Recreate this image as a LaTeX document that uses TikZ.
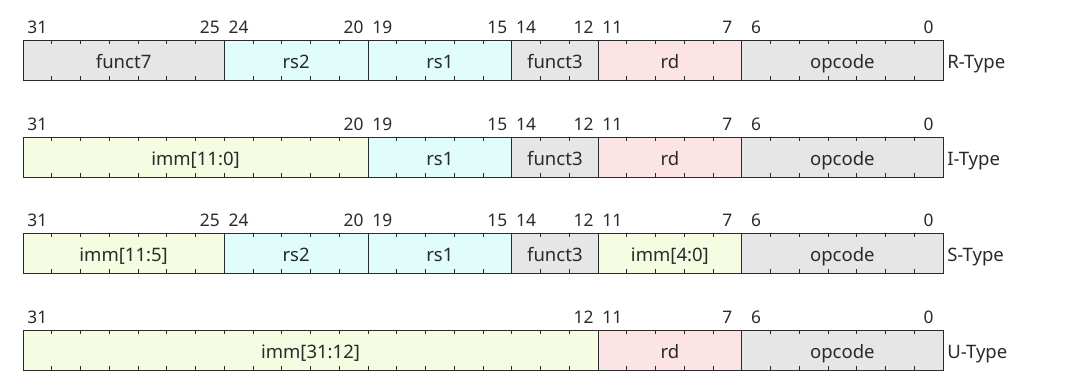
\documentclass[tikz,border=0pt]{standalone}
\usepackage{fontspec}
\setmainfont{Noto Sans}
\usetikzlibrary{positioning, calc}

\definecolor{fldgray}{HTML}{E6E6E6}
\definecolor{fldcyan}{HTML}{E0FDFB}
\definecolor{fldpink}{HTML}{FDE4E4}
\definecolor{fldimm}{HTML}{F4FCE2}
\definecolor{inkgray}{HTML}{2A2A2A}

\tikzset{
    fieldbox/.style={draw=inkgray, line width=0.75pt},
    bittick/.style={draw=inkgray, line width=0.6pt},
    fieldname/.style={inner sep=0pt, anchor=base, text=inkgray,
        font=\fontsize{13.9}{16}\selectfont},
    bitnum/.style={fieldname, font=\fontsize{13}{15}\selectfont},
    typename/.style={fieldname, anchor=base west}
}

\begin{document}
\begin{tikzpicture}[x=0.75pt, y=0.75pt]
    \useasboundingbox (0,0) rectangle (1092,380);
    % --- R-Type ---
    \begin{scope}[shift={(0,300)}]
        \foreach \hi/\lo/\id/\txt/\col in {31/25/funct7/funct7/fldgray,
                24/20/rs2/rs2/fldcyan, 19/15/rs1/rs1/fldcyan,
                14/12/funct3/funct3/fldgray, 11/7/rd/rd/fldpink,
                6/0/opcode/opcode/fldgray} {
            \pgfmathsetmacro{\xa}{23+(31-\hi)*28.75}
            \pgfmathsetmacro{\xb}{23+(32-\lo)*28.75}
            \draw[fieldbox, fill=\col] (\xa,0) rectangle (\xb,40);
            \node[fieldname] (R-\id) at ({(\xa+\xb)/2},11.7) {\txt};
            \node[bitnum] (R-\id-hi) at ({\xa+14.375},46.7) {\hi};
            \node[bitnum] (R-\id-lo) at ({\xb-14.375},46.7) {\lo};
        }
        \foreach \k in {1,...,31} {
            \draw[bittick] ({23+\k*28.75},0) -- ++(0,4);
            \draw[bittick] ({23+\k*28.75},40) -- ++(0,-4);
        }
        \node[typename] (R-type) at (947,11.7) {R-Type};
    \end{scope}
    % --- I-Type ---
    \begin{scope}[shift={(0,203)}]
        \foreach \hi/\lo/\id/\txt/\col in {31/20/imm/{imm[11:0]}/fldimm,
                19/15/rs1/rs1/fldcyan, 14/12/funct3/funct3/fldgray,
                11/7/rd/rd/fldpink, 6/0/opcode/opcode/fldgray} {
            \pgfmathsetmacro{\xa}{23+(31-\hi)*28.75}
            \pgfmathsetmacro{\xb}{23+(32-\lo)*28.75}
            \draw[fieldbox, fill=\col] (\xa,0) rectangle (\xb,40);
            \node[fieldname] (I-\id) at ({(\xa+\xb)/2},11.7) {\txt};
            \node[bitnum] (I-\id-hi) at ({\xa+14.375},46.7) {\hi};
            \node[bitnum] (I-\id-lo) at ({\xb-14.375},46.7) {\lo};
        }
        \foreach \k in {1,...,31} {
            \draw[bittick] ({23+\k*28.75},0) -- ++(0,4);
            \draw[bittick] ({23+\k*28.75},40) -- ++(0,-4);
        }
        \node[typename] (I-type) at (947,11.7) {I-Type};
    \end{scope}
    % --- S-Type ---
    \begin{scope}[shift={(0,107)}]
        \foreach \hi/\lo/\id/\txt/\col in {31/25/immhi/{imm[11:5]}/fldimm,
                24/20/rs2/rs2/fldcyan, 19/15/rs1/rs1/fldcyan,
                14/12/funct3/funct3/fldgray, 11/7/immlo/{imm[4:0]}/fldimm,
                6/0/opcode/opcode/fldgray} {
            \pgfmathsetmacro{\xa}{23+(31-\hi)*28.75}
            \pgfmathsetmacro{\xb}{23+(32-\lo)*28.75}
            \draw[fieldbox, fill=\col] (\xa,0) rectangle (\xb,40);
            \node[fieldname] (S-\id) at ({(\xa+\xb)/2},11.7) {\txt};
            \node[bitnum] (S-\id-hi) at ({\xa+14.375},46.7) {\hi};
            \node[bitnum] (S-\id-lo) at ({\xb-14.375},46.7) {\lo};
        }
        \foreach \k in {1,...,31} {
            \draw[bittick] ({23+\k*28.75},0) -- ++(0,4);
            \draw[bittick] ({23+\k*28.75},40) -- ++(0,-4);
        }
        \node[typename] (S-type) at (947,11.7) {S-Type};
    \end{scope}
    % --- U-Type ---
    \begin{scope}[shift={(0,10)}]
        \foreach \hi/\lo/\id/\txt/\col in {31/12/imm/{imm[31:12]}/fldimm,
                11/7/rd/rd/fldpink, 6/0/opcode/opcode/fldgray} {
            \pgfmathsetmacro{\xa}{23+(31-\hi)*28.75}
            \pgfmathsetmacro{\xb}{23+(32-\lo)*28.75}
            \draw[fieldbox, fill=\col] (\xa,0) rectangle (\xb,40);
            \node[fieldname] (U-\id) at ({(\xa+\xb)/2},11.7) {\txt};
            \node[bitnum] (U-\id-hi) at ({\xa+14.375},46.7) {\hi};
            \node[bitnum] (U-\id-lo) at ({\xb-14.375},46.7) {\lo};
        }
        \foreach \k in {1,...,31} {
            \draw[bittick] ({23+\k*28.75},0) -- ++(0,4);
            \draw[bittick] ({23+\k*28.75},40) -- ++(0,-4);
        }
        \node[typename] (U-type) at (947,11.7) {U-Type};
    \end{scope}
\end{tikzpicture}
\end{document}
